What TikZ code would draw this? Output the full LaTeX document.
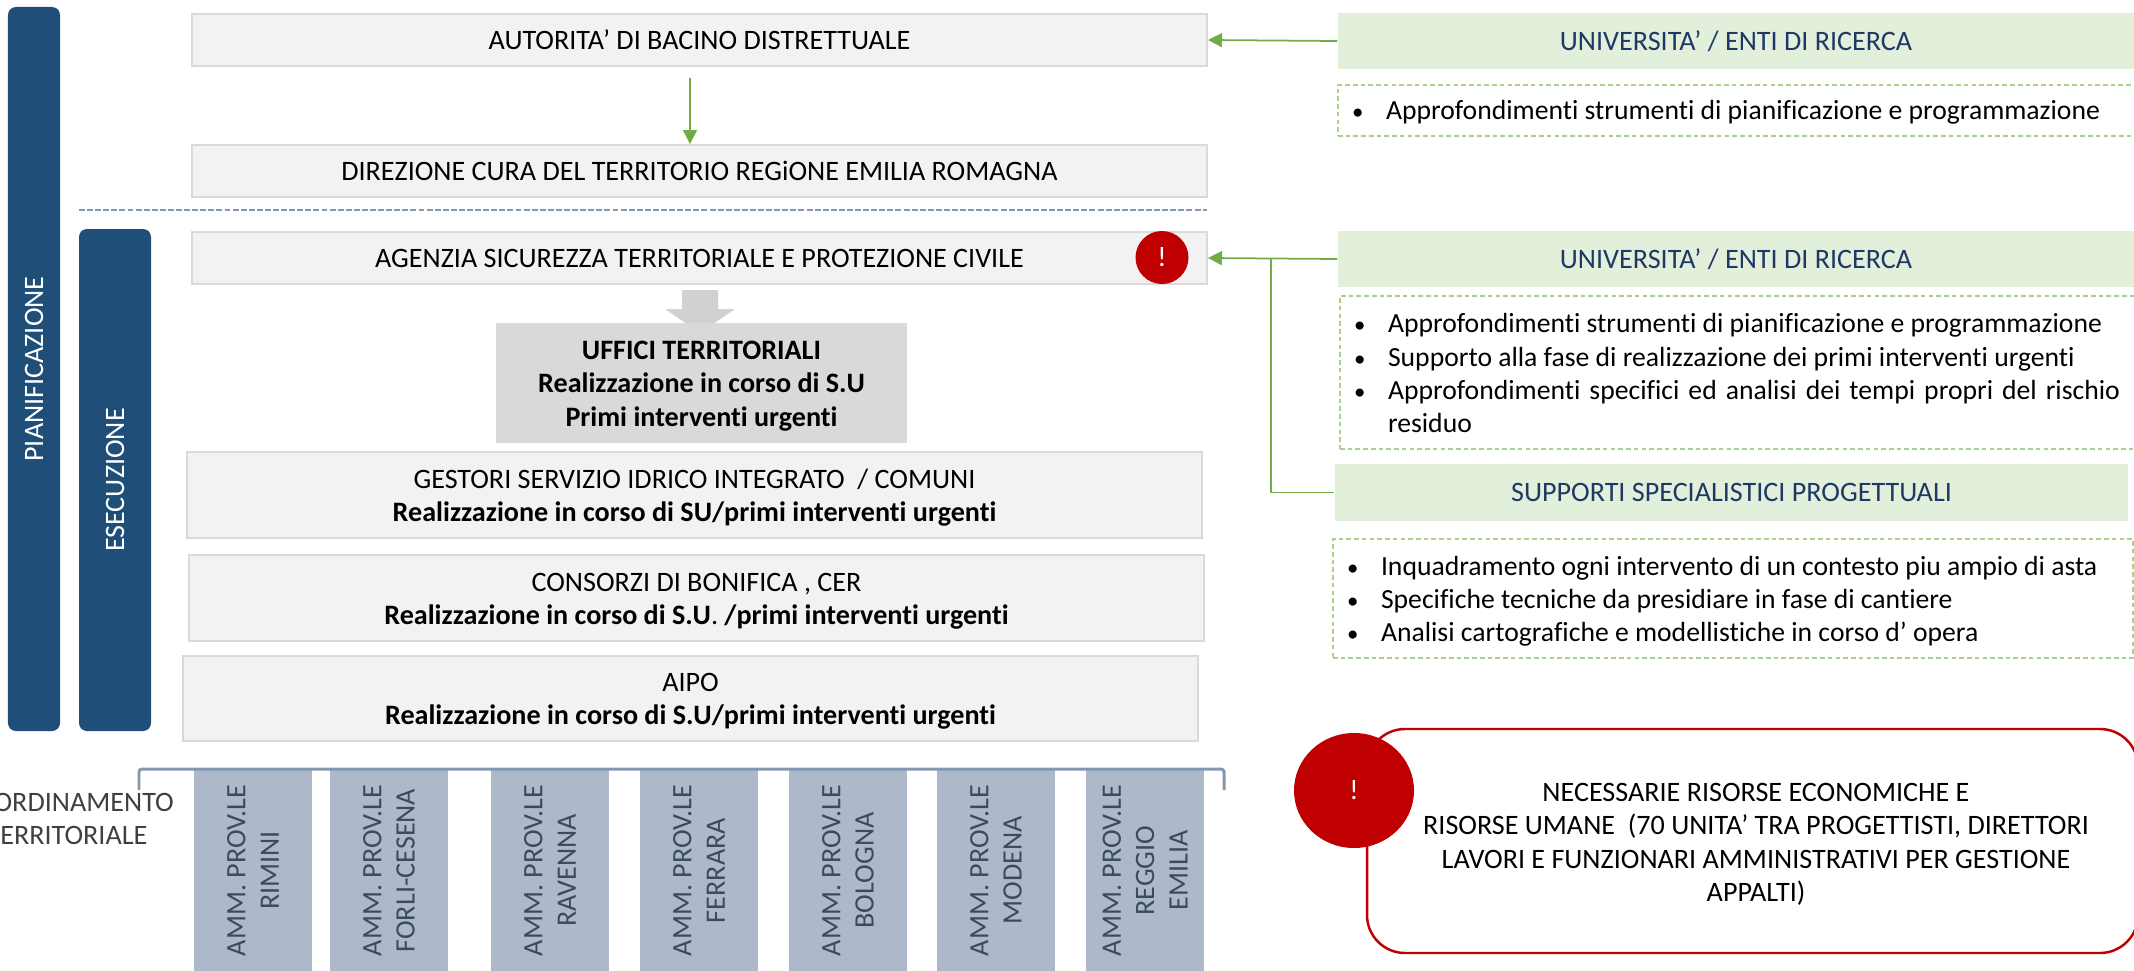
\documentclass[tikz,border=0pt]{standalone}
\usepackage{fontspec}
\setmainfont{Carlito}[Ligatures=NoCommon]
\usetikzlibrary{arrows.meta, shapes.geometric}
\definecolor{barblue}{HTML}{1F4E79}
\definecolor{titleblue}{HTML}{1F3864}
\definecolor{slate}{HTML}{8497B0}
\definecolor{provfill}{HTML}{ADB9CA}
\definecolor{provtext}{HTML}{3B4A5E}
\definecolor{headgreen}{HTML}{E2EFDA}
\definecolor{dashgreen}{HTML}{A9D18E}
\definecolor{linegreen}{HTML}{70AD47}
\definecolor{alarmred}{HTML}{C00000}
\newcommand{\bulletitem}[1]{\par\noindent\hangindent=0.28cm\hangafter=1\makebox[0.28cm][l]{\hspace{-0.06cm}\fontsize{6.5}{6.5}\selectfont\textbullet}#1\par}
\newcommand{\topline}{\rule{0pt}{6.9pt}}

\begin{document}
\begin{tikzpicture}[y=-1cm,
    txt/.style={font=\fontsize{8}{9.5}\selectfont, align=center},
    graybox/.style={txt, rectangle, fill=black!5, draw=black!15, line width=0.55pt, minimum width=10.15cm, inner sep=0},
    bar/.style={rectangle, rounded corners=0.08cm, fill=barblue, text=white, rotate=90, inner sep=0, txt},
    head/.style={txt, rectangle, fill=headgreen, text=titleblue, inner sep=0},
    notes/.style={font=\fontsize{7.87}{9.5}\selectfont, rectangle, draw=dashgreen, line width=0.55pt, dash pattern=on 1.3pt off 0.9pt, text width=7.6cm, align=justify, inner xsep=0.2cm, inner ysep=0},
    prov/.style={txt, rectangle, fill=provfill, text=provtext, rotate=90, minimum width=2.01cm, minimum height=1.18cm, inner sep=0},
    alarm/.style={txt, fill=alarmred, text=white, inner sep=0},
    link/.style={linegreen, line width=0.5pt},
    linkarrow/.style={link, -{Triangle[length=0.14cm,width=0.14cm]}}]
    \useasboundingbox (0,0) rectangle (21.34,9.70);

    %Bars
    \node[bar, minimum width=7.24cm, minimum height=0.52cm] at (0.34, 3.69) (pianificazione) {PIANIFICAZIONE};
    \node[bar, minimum width=5.02cm, minimum height=0.72cm] at (1.15, 4.80) (esecuzione) {ESECUZIONE};

    %Boxes
    \fill[black!18!white] (6.82, 2.90) -- (7.18, 2.90) -- (7.18, 3.09) -- (7.35, 3.09) -- (7.00, 3.33) -- (6.65, 3.09) -- (6.82, 3.09) -- cycle;
    \node[graybox, minimum height=0.52cm] at (6.995, 0.40) (autorita) {AUTORITA’ DI BACINO DISTRETTUALE};
    \node[graybox, minimum height=0.52cm] at (6.995, 1.71) (direzione) {DIREZIONE CURA DEL TERRITORIO REGiONE EMILIA ROMAGNA};
    \node[graybox, minimum height=0.52cm] at (6.995, 2.58) (agenzia) {AGENZIA SICUREZZA TERRITORIALE E PROTEZIONE CIVILE};
    \node[txt, rectangle, fill=black!15, minimum width=4.11cm, minimum height=1.20cm, inner sep=0] at (7.015, 3.83) (uffici) {\topline\textbf{UFFICI TERRITORIALI}\\\textbf{Realizzazione in corso di S.U}\\\textbf{Primi interventi urgenti}};
    \node[graybox, minimum height=0.86cm] at (6.945, 4.95) (gestori) {\topline GESTORI SERVIZIO IDRICO INTEGRATO~ / COMUNI\\\textbf{Realizzazione in corso di SU/primi interventi urgenti}};
    \node[graybox, minimum height=0.86cm] at (6.965, 5.98) (consorzi) {\topline CONSORZI DI BONIFICA , CER\\\textbf{Realizzazione in corso di S.U}. \textbf{/primi interventi urgenti}};
    \node[graybox, minimum height=0.85cm] at (6.905, 6.985) (aipo) {\topline AIPO\\\textbf{Realizzazione in corso di S.U/primi interventi urgenti}};

    %Province
    \node[txt, text=black!75] at (0.67, 8.19) (coordinamento) {COORDINAMENTO\\TERRITORIALE};
    \node[prov] at (2.53, 8.705) (rimini) {AMM. PROV.LE\\RIMINI};
    \node[prov] at (3.89, 8.705) (forli) {AMM. PROV.LE\\FORLI-CESENA};
    \node[prov] at (5.50, 8.705) (ravenna) {AMM. PROV.LE\\RAVENNA};
    \node[prov] at (6.99, 8.705) (ferrara) {AMM. PROV.LE\\FERRARA};
    \node[prov] at (8.48, 8.705) (bologna) {AMM. PROV.LE\\BOLOGNA};
    \node[prov] at (9.96, 8.705) (modena) {AMM. PROV.LE\\MODENA};
    \node[prov] at (11.45, 8.705) (reggio) {AMM. PROV.LE\\REGGIO\\EMILIA};

    %Right column
    \node[head, minimum width=7.96cm, minimum height=0.56cm] at (17.36, 0.41) (ricerca1) {UNIVERSITA’ / ENTI DI RICERCA};
    \node[notes, minimum height=0.51cm, text depth=13.6pt] at (17.38, 1.105) (note1) {\bulletitem{Approfondimenti strumenti di pianificazione e programmazione}};
    \node[head, minimum width=7.96cm, minimum height=0.56cm] at (17.36, 2.59) (ricerca2) {UNIVERSITA’ / ENTI DI RICERCA};
    \node[notes, minimum height=1.53cm, text depth=41.7pt] at (17.40, 3.725) (note2) {\bulletitem{Approfondimenti strumenti di pianificazione e programmazione}\bulletitem{Supporto alla fase di realizzazione dei primi interventi urgenti}\bulletitem{Approfondimenti specifici ed analisi dei tempi propri del rischio\linebreak residuo}};
    \node[head, minimum width=7.93cm, minimum height=0.57cm] at (17.315, 4.925) (supporti) {SUPPORTI SPECIALISTICI PROGETTUALI};
    \node[notes, minimum height=1.19cm, text depth=32.3pt] at (17.33, 5.985) (note3) {\bulletitem{Inquadramento ogni intervento di un contesto piu ampio di asta}\bulletitem{Specifiche tecniche da presidiare in fase di cantiere}\bulletitem{Analisi cartografiche e modellistiche in corso d’ opera}};

    %Red items
    \node[rectangle, rounded corners=0.38cm, fill=white, draw=alarmred, line width=0.7pt, minimum width=7.71cm, minimum height=2.24cm, inner sep=0] at (17.525, 8.41) (risorse) {};
    \node[txt] at (17.56, 8.445) (risorsetext) {NECESSARIE RISORSE ECONOMICHE E\\RISORSE UMANE~ (70 UNITA’ TRA PROGETTISTI, DIRETTORI\\LAVORI E FUNZIONARI AMMINISTRATIVI PER GESTIONE\\APPALTI)};
    \node[alarm, ellipse, minimum width=1.20cm, minimum height=1.15cm] at (13.54, 7.905) (alarm2) {!};
    \node[alarm, circle, minimum size=0.53cm] at (11.62, 2.575) (alarm1) {!};

    %Lines
    \coordinate (start) at (6.90, 1);
    \coordinate (joint) at (12.71, 2.58);
    \draw[linkarrow, line width=0.35pt, shorten <=0.11cm] (autorita.south -| start) -- (direzione.north -| start);
    \draw[linkarrow] (ricerca1.west) -- (autorita.east);
    \draw[linkarrow] (ricerca2.west) -- (agenzia.east);
    \draw[link] (supporti.west) -| (joint);
    \draw[slate, line width=0.8pt, dash pattern=on 1.7pt off 0.6pt] (0.79, 2.10) -- (12.07, 2.10);
    \draw[slate, line width=0.85pt, rounded corners=0.03cm] (1.39, 7.90) -- (1.39, 7.69) -- (12.24, 7.69) -- (12.24, 7.90);
\end{tikzpicture}
\end{document}
